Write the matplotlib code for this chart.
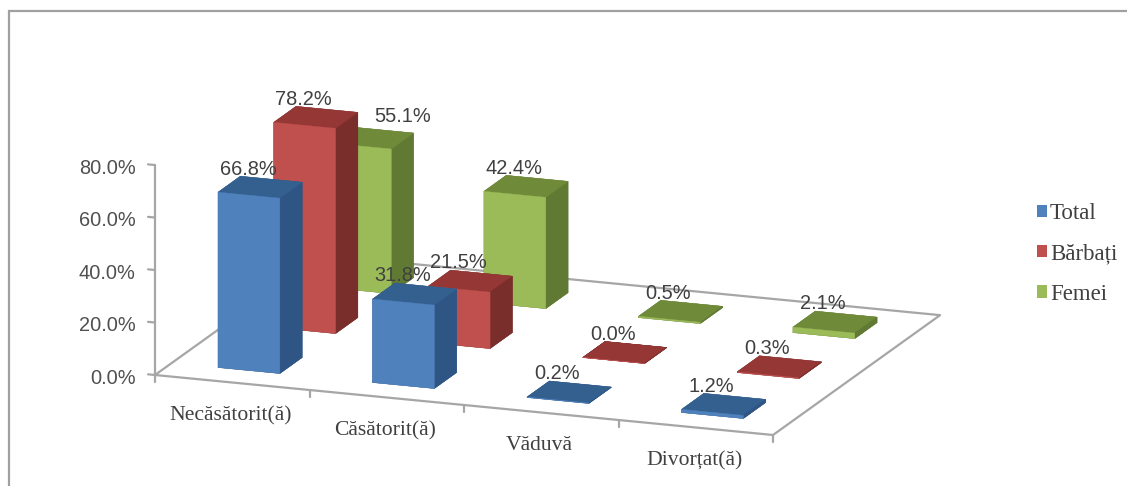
import matplotlib
matplotlib.use("Agg")
import matplotlib.pyplot as plt
from matplotlib.patches import Patch, Rectangle
from mpl_toolkits.mplot3d import proj3d

categories = ["Necăsătorit(ă)", "Căsătorit(ă)", "Văduvă", "Divorțat(ă)"]
series_names = ["Total", "Bărbați", "Femei"]
total = [66.8, 31.8, 0.2, 1.2]
barbati = [78.2, 21.5, 0.0, 0.3]
femei = [55.1, 42.4, 0.5, 2.1]
z_ticks = [0, 20, 40, 60, 80]

series = [total, barbati, femei]
# front, top, side colours per series
front = ["#4F81BD", "#C0504D", "#9BBB59"]
top = ["#33608F", "#953735", "#6F8B3A"]
side = ["#2F5585", "#7A2E2C", "#617A33"]
GRAY = "#A6A6A6"
TXT = "#404040"
TICK_TXT = "#505050"
SANS = "Liberation Sans"
SERIF = "Liberation Serif"
W, H = 1127, 486

fig = plt.figure(figsize=(W / 100, H / 100), dpi=100, facecolor="white")
ax = fig.add_axes([0, 0, 1, 1], projection="3d", computed_zorder=False)
ax.set_proj_type("ortho")
ax.view_init(elev=15.3, azim=-69.8)
ax.set_xlim(0, 4)
ax.set_ylim(0, 3)
ax.set_zlim(0, 80)
ax.set_box_aspect((658.6, 484, 217.7))
ax.set_xticks([])
ax.set_yticks([])
ax.set_zticks([])
ax.set_axis_off()
ax.patch.set_visible(False)


def to_px(x, y, z):
    xs, ys, _ = proj3d.proj_transform(x, y, z, ax.get_proj())
    return ax.transData.transform((xs, ys))


def label(x, y, z, s, **kw):
    """Write a text at the point of the 3D axes given by its data values."""
    px, py = to_px(x, y, z)
    fig.text(px / W, py / H, s, **kw)


# Fit the projected floor onto the reference position
S = 900.0
left, bottom = 0.0, 0.0
for _ in range(4):
    ax.set_position([left / W, bottom / H, S / W, S / H])
    ax.apply_aspect()
    p0 = to_px(0, 0, 0)
    p1 = to_px(4, 0, 0)
    k = 618.0 / (p1[0] - p0[0])
    S *= k
    left = 155 - (p0[0] - left) * k
    bottom = (H - 375) - (p0[1] - bottom) * k
ax.set_position([left / W, bottom / H, S / W, S / H])
ax.apply_aspect()

# Floor outline and axes
line = dict(color=GRAY, lw=1.6, zorder=1, solid_capstyle="round")
ax.plot([0, 4, 4, 0, 0], [0, 0, 3, 3, 0], [0, 0, 0, 0, 0], **line)
ax.plot([0, 0], [0, 0], [0, 80], **line)
for z in z_ticks:
    ax.plot([-0.045, 0], [0, 0], [z, z], **line)
    label(-0.125, 0, z - 1.9, f"{z:.1f}%", ha="right", va="center",
          family=SANS, fontsize=14.4, color=TICK_TXT)
for i in range(5):
    ax.plot([i, i], [0, 0], [0, -2.8], **line)
for i, name in enumerate(categories):
    label(i + 0.49, 0, -12.8, name, ha="center", va="center",
          family=SERIF, fontsize=15.6, color=TXT)

# Bars, painted from the back row forward
WIDTH, DEPTH = 0.4, 0.4
order = 10
for s in (2, 1, 0):
    for c in range(len(categories)):
        v = series[s][c]
        if v <= 0:
            v = 0.05
        # faces: bottom, top, -y (front), +y, -x, +x (side)
        cols = [side[s], top[s], front[s], side[s], side[s], side[s]]
        ax.bar3d(c + 0.5 - WIDTH / 2, s + 0.5 - DEPTH / 2, 0, WIDTH, DEPTH, v,
                 color=cols, shade=False, edgecolor=cols, linewidth=0.3,
                 zorder=order)
        order += 1

# Data labels: usual offset, with the one moved label from the reference
for s in range(3):
    for c in range(len(categories)):
        v = series[s][c]
        dx, dz = -12 / 154.5, 17 / 2.625
        if (s, c) == (2, 0):
            dx, dz = 31 / 154.5, 25 / 2.625
        label(c + 0.5 + dx, s + 0.5, v + dz, f"{v:.1f}%", ha="center",
              va="center", family=SANS, fontsize=14.4, color=TXT)

# Legend
handles = [Patch(facecolor=front[i], edgecolor="none", label=series_names[i]) for i in range(3)]
fig.legend(handles=handles, loc="center left", bbox_to_anchor=(1037 / W, 1 - 254 / H),
           frameon=False, borderpad=0, borderaxespad=0, handlelength=0.44,
           handleheight=0.44, handletextpad=0.12, labelspacing=0.84, labelcolor=TXT,
           prop={"family": SERIF, "size": 16.5})

# Outer frame, cut by the picture's right and bottom edges
fig.add_artist(Rectangle((8.5 / W, -0.1), 1.2, 1.1 - 10.5 / H,
                         transform=fig.transFigure, fill=False,
                         edgecolor="#A0A0A0", linewidth=1.6))

fig.savefig("out.png", dpi=100)
